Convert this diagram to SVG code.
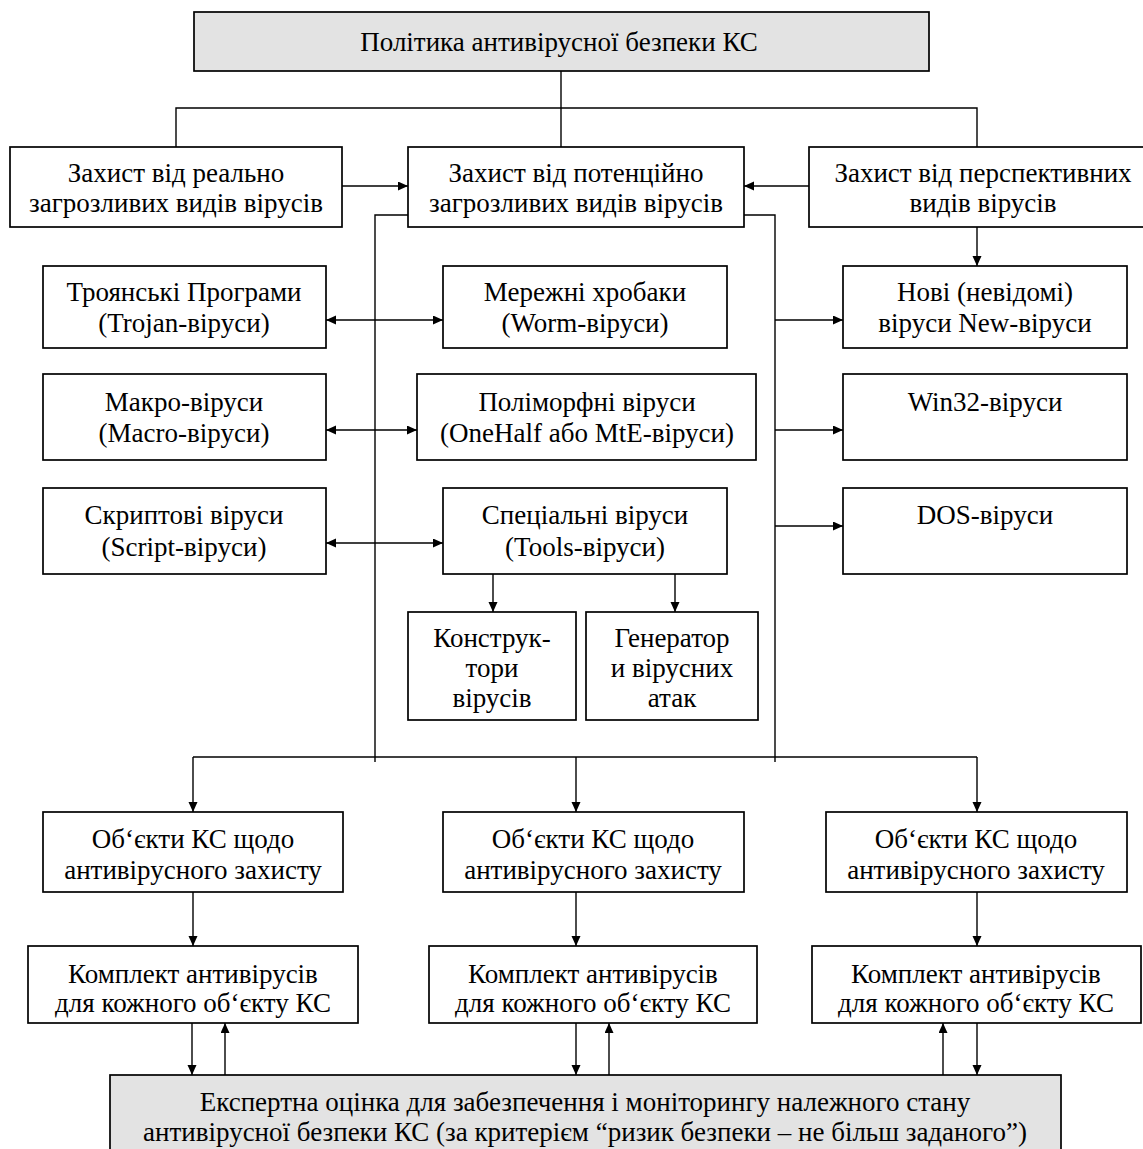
<svg xmlns="http://www.w3.org/2000/svg" width="1143" height="1149" viewBox="0 0 1143 1149">
<style>
.b{fill:#ffffff;stroke:#000;stroke-width:1.7}
.g{fill:#e3e3e3;stroke:#000;stroke-width:1.7}
text{font-family:"Liberation Serif","Times New Roman",serif;font-size:27px;fill:#000;text-anchor:middle}
.c line,.c polyline{stroke:#000;stroke-width:1.4;fill:none}
.a{marker-end:url(#ah)}
.d{marker-start:url(#ah);marker-end:url(#ah)}
</style>
<defs>
<marker id="ah" markerUnits="userSpaceOnUse" markerWidth="11" markerHeight="10" refX="10" refY="4.5" orient="auto-start-reverse">
<path d="M0,0 L10,4.5 L0,9 z" fill="#000"/>
</marker>
</defs>
<rect width="1143" height="1149" fill="#fff"/>

<g class="c" id="connectors">
<line x1="561" y1="71" x2="561" y2="147"/>
<polyline points="176,147 176,108 977,108 977,147"/>
<line class="a" x1="342" y1="186" x2="408" y2="186"/>
<line class="a" x1="809" y1="186" x2="744" y2="186"/>
<polyline points="408,215 375,215 375,762"/>
<polyline points="744,215 775,215 775,762"/>
<line class="a" x1="977" y1="227" x2="977" y2="266"/>
<line class="d" x1="326" y1="320" x2="443" y2="320"/>
<line class="d" x1="326" y1="430" x2="417" y2="430"/>
<line class="d" x1="326" y1="543" x2="443" y2="543"/>
<line class="a" x1="775" y1="320" x2="843" y2="320"/>
<line class="a" x1="775" y1="430" x2="843" y2="430"/>
<line class="a" x1="775" y1="526" x2="843" y2="526"/>
<line class="a" x1="493" y1="574" x2="493" y2="612"/>
<line class="a" x1="675" y1="574" x2="675" y2="612"/>
<line x1="193" y1="757" x2="977" y2="757"/>
<line class="a" x1="193" y1="757" x2="193" y2="812"/>
<line class="a" x1="576" y1="757" x2="576" y2="812"/>
<line class="a" x1="977" y1="757" x2="977" y2="812"/>
<line class="a" x1="193" y1="892" x2="193" y2="946"/>
<line class="a" x1="576" y1="892" x2="576" y2="946"/>
<line class="a" x1="977" y1="892" x2="977" y2="946"/>
<line class="a" x1="192" y1="1023" x2="192" y2="1075"/>
<line class="a" x1="225" y1="1075" x2="225" y2="1023"/>
<line class="a" x1="576" y1="1023" x2="576" y2="1075"/>
<line class="a" x1="609" y1="1075" x2="609" y2="1023"/>
<line class="a" x1="943" y1="1075" x2="943" y2="1023"/>
<line class="a" x1="977" y1="1023" x2="977" y2="1075"/>
</g>

<g id="n-policy"><rect class="g" x="194" y="12" width="735" height="59"/><text x="559" y="51">Політика антивірусної безпеки КС</text></g>

<g id="n-real"><rect class="b" x="10" y="147" width="332" height="80"/><text x="176" y="182">Захист від реально</text><text x="176" y="212">загрозливих видів вірусів</text></g>
<g id="n-potential"><rect class="b" x="408" y="147" width="336" height="80"/><text x="576" y="182">Захист від потенційно</text><text x="576" y="212">загрозливих видів вірусів</text></g>
<g id="n-future"><rect class="b" x="809" y="147" width="345" height="80"/><text x="983" y="182">Захист від перспективних</text><text x="983" y="212">видів вірусів</text></g>

<g id="n-trojan"><rect class="b" x="43" y="266" width="283" height="82"/><text x="184" y="301">Троянські Програми</text><text x="184" y="332">(Trojan-віруси)</text></g>
<g id="n-worm"><rect class="b" x="443" y="266" width="284" height="82"/><text x="585" y="301">Мережні хробаки</text><text x="585" y="332">(Worm-віруси)</text></g>
<g id="n-new"><rect class="b" x="843" y="266" width="284" height="82"/><text x="985" y="301">Нові (невідомі)</text><text x="985" y="332">віруси New-віруси</text></g>

<g id="n-macro"><rect class="b" x="43" y="374" width="283" height="86"/><text x="184" y="411">Макро-віруси</text><text x="184" y="442">(Macro-віруси)</text></g>
<g id="n-poly"><rect class="b" x="417" y="374" width="339" height="86"/><text x="587" y="411">Поліморфні віруси</text><text x="587" y="442">(OneHalf або MtE-віруси)</text></g>
<g id="n-win32"><rect class="b" x="843" y="374" width="284" height="86"/><text x="985" y="411">Win32-віруси</text></g>

<g id="n-script"><rect class="b" x="43" y="488" width="283" height="86"/><text x="184" y="524">Скриптові віруси</text><text x="184" y="556">(Script-віруси)</text></g>
<g id="n-tools"><rect class="b" x="443" y="488" width="284" height="86"/><text x="585" y="524">Спеціальні віруси</text><text x="585" y="556">(Tools-віруси)</text></g>
<g id="n-dos"><rect class="b" x="843" y="488" width="284" height="86"/><text x="985" y="524">DOS-віруси</text></g>

<g id="n-constr"><rect class="b" x="408" y="612" width="168" height="108"/><text x="492" y="647">Конструк-</text><text x="492" y="677">тори</text><text x="492" y="707">вірусів</text></g>
<g id="n-gen"><rect class="b" x="586" y="612" width="172" height="108"/><text x="672" y="647">Генератор</text><text x="672" y="677">и вірусних</text><text x="672" y="707">атак</text></g>

<g id="n-obj1"><rect class="b" x="43" y="812" width="300" height="80"/><text x="193" y="848">Об‘єкти КС щодо</text><text x="193" y="879">антивірусного захисту</text></g>
<g id="n-obj2"><rect class="b" x="443" y="812" width="301" height="80"/><text x="593" y="848">Об‘єкти КС щодо</text><text x="593" y="879">антивірусного захисту</text></g>
<g id="n-obj3"><rect class="b" x="826" y="812" width="301" height="80"/><text x="976" y="848">Об‘єкти КС щодо</text><text x="976" y="879">антивірусного захисту</text></g>

<g id="n-kit1"><rect class="b" x="28" y="946" width="330" height="77"/><text x="193" y="983">Комплект антивірусів</text><text x="193" y="1012">для кожного об‘єкту КС</text></g>
<g id="n-kit2"><rect class="b" x="429" y="946" width="328" height="77"/><text x="593" y="983">Комплект антивірусів</text><text x="593" y="1012">для кожного об‘єкту КС</text></g>
<g id="n-kit3"><rect class="b" x="812" y="946" width="329" height="77"/><text x="976" y="983">Комплект антивірусів</text><text x="976" y="1012">для кожного об‘єкту КС</text></g>

<g id="n-expert"><rect class="g" x="110" y="1075" width="951" height="90"/><text x="585" y="1111">Експертна оцінка для забезпечення і моніторингу належного стану</text><text x="585" y="1141">антивірусної безпеки КС (за критерієм “ризик безпеки – не більш заданого”)</text></g>
</svg>
